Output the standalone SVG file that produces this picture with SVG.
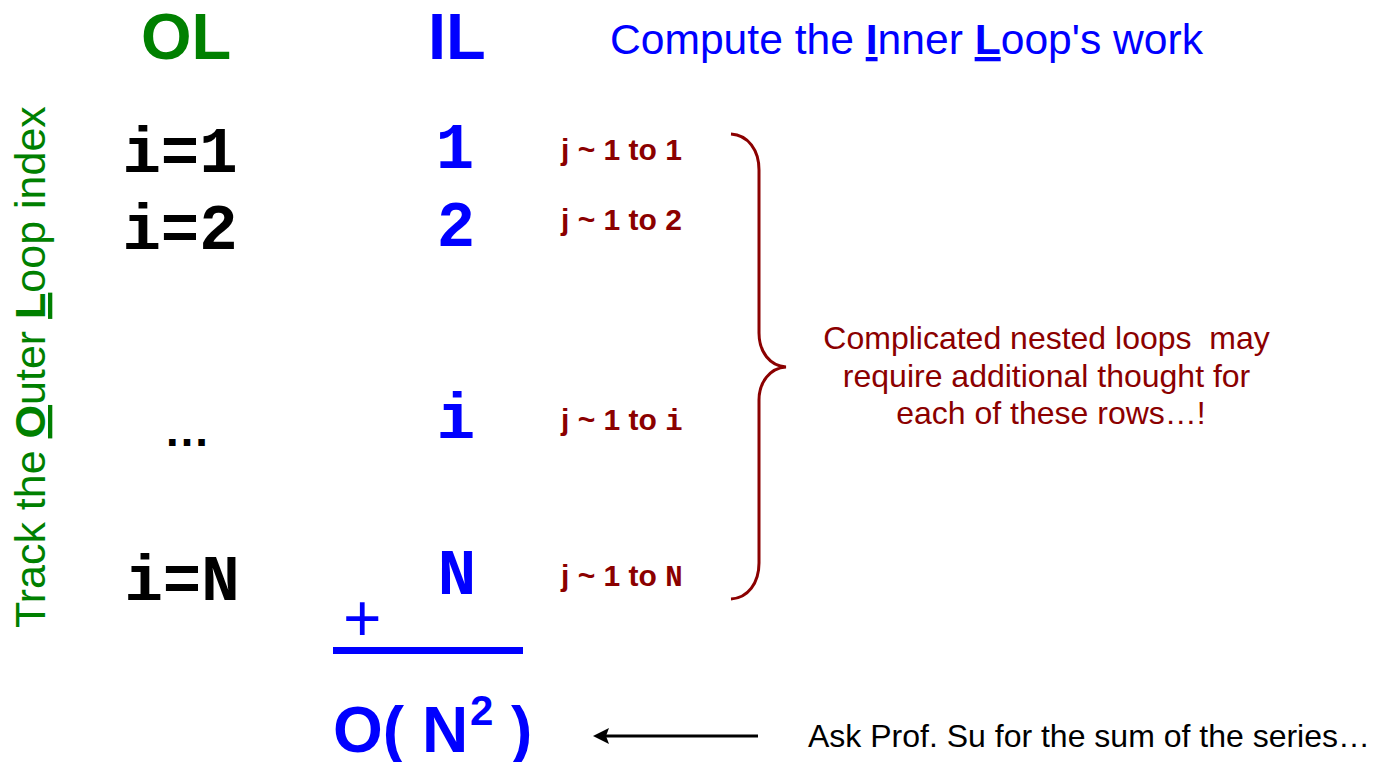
<svg xmlns="http://www.w3.org/2000/svg" width="1375" height="762" viewBox="0 0 1375 762">
  <style>
    .sans { font-family: "Liberation Sans", Arial, sans-serif; }
    .mono { font-family: "Courier New", "Liberation Mono", monospace; font-weight: bold; }
    .green { fill: #008000; }
    .blue { fill: #0000ff; }
    .black { fill: #000000; }
    .red { fill: #8b0000; }
    .hdr { font-size: 65px; font-weight: bold; }
    .big { font-size: 64px; }
    .jl { font-size: 30px; font-weight: bold; }
    .jm { font-size: 29px; }
    .note { font-size: 32px; }
    .b { font-weight: bold; }
  </style>
  <defs>
    <marker id="arrowhead" markerUnits="userSpaceOnUse" markerWidth="18" markerHeight="18" refX="11" refY="8" orient="auto">
      <path d="M0,0 L16,8 L0,16 L3,8 Z" fill="#000000"/>
    </marker>
  </defs>

  <rect x="0" y="0" width="1375" height="762" fill="#ffffff"/>

  <g id="header-ol">
    <text x="141" y="59" class="sans hdr green">OL</text>
  </g>
  <g id="header-il">
    <text x="428" y="59" class="sans hdr blue">IL</text>
  </g>
  <g id="header-compute">
    <text x="610" y="54" class="sans blue" font-size="42.6">Compute the <tspan class="b" text-decoration="underline">I</tspan>nner <tspan class="b" text-decoration="underline">L</tspan>oop's work</text>
  </g>
  <g id="side-label">
    <text transform="translate(45,628) rotate(-90)" class="sans green" font-size="43">Track the <tspan class="b" text-decoration="underline">O</tspan>uter <tspan class="b" text-decoration="underline">L</tspan>oop index</text>
  </g>

  <g id="outer-loop">
    <text x="180" y="172" text-anchor="middle" class="mono big black">i=1</text>
    <text x="180" y="249" text-anchor="middle" class="mono big black">i=2</text>
    <text x="187" y="446" text-anchor="middle" class="sans black b" font-size="46">…</text>
    <text x="182" y="600" text-anchor="middle" class="mono big black">i=N</text>
  </g>

  <g id="inner-loop">
    <text x="455" y="168" text-anchor="middle" class="mono big blue">1</text>
    <text x="456" y="246" text-anchor="middle" class="mono big blue">2</text>
    <text x="456" y="438" text-anchor="middle" class="mono big blue">i</text>
    <text x="457" y="594" text-anchor="middle" class="mono big blue">N</text>
  </g>

  <g id="j-ranges">
    <text x="561" y="160" class="sans jl red">j ~ 1 to 1</text>
    <text x="561" y="230" class="sans jl red">j ~ 1 to 2</text>
    <text x="561" y="430" class="sans jl red">j ~ 1 to <tspan class="mono jm">i</tspan></text>
    <text x="561" y="586" class="sans jl red">j ~ 1 to <tspan class="mono jm">N</tspan></text>
  </g>

  <g id="brace">
    <path d="M731,134 C748,135 759,150 759,170 L759,333 C759,352 770,366 786,367 C770,368 759,382 759,400 L759,563 C759,583 748,598 731,599" fill="none" stroke="#8b0000" stroke-width="3"/>
  </g>

  <g id="note">
    <text text-anchor="middle" class="sans note red">
      <tspan x="1051" y="349">Complicated nested loops&#160; may</tspan>
      <tspan x="1051" y="387">require additional thought for</tspan>
      <tspan x="1051" y="424">each of these rows…!</tspan>
    </text>
  </g>

  <g id="sum">
    <text x="343" y="641" class="sans blue" font-size="66">+</text>
    <rect x="333" y="647" width="190" height="7" fill="#0000ff"/>
  </g>

  <g id="result">
    <text x="333" y="752" class="sans blue b" font-size="64">O( N<tspan x="470" y="725" font-size="42">2</tspan><tspan x="511" y="752">)</tspan></text>
  </g>

  <g id="hint">
    <text x="808" y="747" class="sans black" font-size="32">Ask Prof. Su for the sum of the series…</text>
  </g>

  <g id="connectors">
    <line x1="758" y1="736" x2="598" y2="736" stroke="#000000" stroke-width="3" marker-end="url(#arrowhead)"/>
  </g>
</svg>
